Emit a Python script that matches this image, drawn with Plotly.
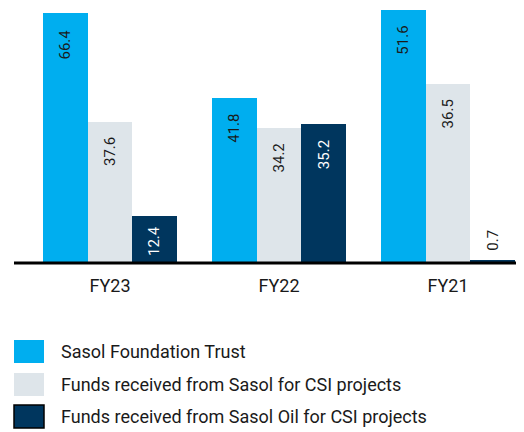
import plotly.graph_objects as go

# ---- data ----
groups = ["FY23", "FY22", "FY21"]
series = [
    "Sasol Foundation Trust",
    "Funds received from Sasol for CSI projects",
    "Funds received from Sasol Oil for CSI projects",
]
sasol_foundation_trust = [66.4, 41.8, 51.6]
funds_sasol = [37.6, 34.2, 36.5]
funds_sasol_oil = [12.4, 35.2, 0.7]
values = [sasol_foundation_trust, funds_sasol, funds_sasol_oil]

# ---- styling ----
W, H = 524, 432
OFF = 8  # page body margin offset
colors = ["#00AEEF", "#DEE5EA", "#00365E"]
text_colors = ["#1a1a1a", "#1a1a1a", "#ffffff"]
FONT = "Roboto"
base_px = 263
# each group in the original uses its own vertical scale
y_max = [69.9, 66.6, 53.6]
x_domains_px = [(43, 177), (212, 346), (381, 515)]


def px_x(p):
    return (p - OFF) / W


def px_y(p):
    return (H - (p - OFF)) / H


fig = go.Figure()
short = ["a", "b", "c"]
annotations = []
for g, grp in enumerate(groups):
    ax = "" if g == 0 else str(g + 1)
    scale = base_px / y_max[g]  # px per unit
    for s, name in enumerate(series):
        fig.add_trace(go.Bar(
            x=[short[s]], y=[values[s][g]], name=name,
            marker=dict(color=colors[s], line=dict(width=0)),
            xaxis="x" + ax, yaxis="y" + ax,
            showlegend=False, hoverinfo="skip",
        ))
        v = values[s][g]
        bar_px = v * scale
        outside = bar_px < 20
        annotations.append(dict(
            x=short[s], y=v, xref="x" + ax, yref="y" + ax,
            text=f"{v:.1f}", showarrow=False, textangle=-90,
            yanchor="bottom" if outside else "top",
            yshift=7 if outside else (-8 if bar_px < 60 else -14),
            font=dict(family=FONT, size=15,
                      color="#1a1a1a" if outside else text_colors[s]),
        ))
    d = x_domains_px[g]
    fig.update_layout(**{
        "xaxis" + ax: dict(
            domain=[px_x(d[0]), px_x(d[1])], type="category",
            categoryorder="array", categoryarray=short,
            range=[-0.5, 2.5], showgrid=False, zeroline=False, showline=False,
            tickvals=["b"], ticktext=[grp], ticks="", ticklabelstandoff=10,
            tickfont=dict(family=FONT, size=18, color="#1a1a1a"),
            anchor="y" + ax, fixedrange=True,
        ),
        "yaxis" + ax: dict(
            domain=[px_y(base_px), 1], range=[0, (base_px - OFF) / scale],
            visible=False, anchor="x" + ax, fixedrange=True,
        ),
    })

shapes = [dict(type="line", xref="paper", yref="paper",
               x0=px_x(14), x1=1, y0=px_y(base_px), y1=px_y(base_px),
               line=dict(color="#000000", width=3), layer="above")]

# legend (drawn as shapes + text)
leg_rows = [(340, 363), (373, 396), (405, 428)]
for s, name in enumerate(series):
    y0, y1 = leg_rows[s]
    shapes.append(dict(type="rect", xref="paper", yref="paper",
                       x0=px_x(14), x1=px_x(44), y0=px_y(y1), y1=px_y(y0),
                       fillcolor=colors[s],
                       line=dict(color="#000000" if s == 2 else colors[s],
                                 width=1.5 if s == 2 else 0)))
    annotations.append(dict(
        x=px_x(59), y=px_y((y0 + y1) / 2), xref="paper", yref="paper",
        text=name, showarrow=False, xanchor="left", yanchor="middle",
        font=dict(family=FONT, size=18, color="#1a1a1a"),
    ))

fig.update_layout(
    width=W, height=H, margin=dict(l=0, r=0, t=0, b=0),
    paper_bgcolor="white", plot_bgcolor="white",
    barmode="overlay", bargap=0, bargroupgap=0,
    shapes=shapes, annotations=annotations,
    font=dict(family=FONT),
)

fig.write_html("out.html")
